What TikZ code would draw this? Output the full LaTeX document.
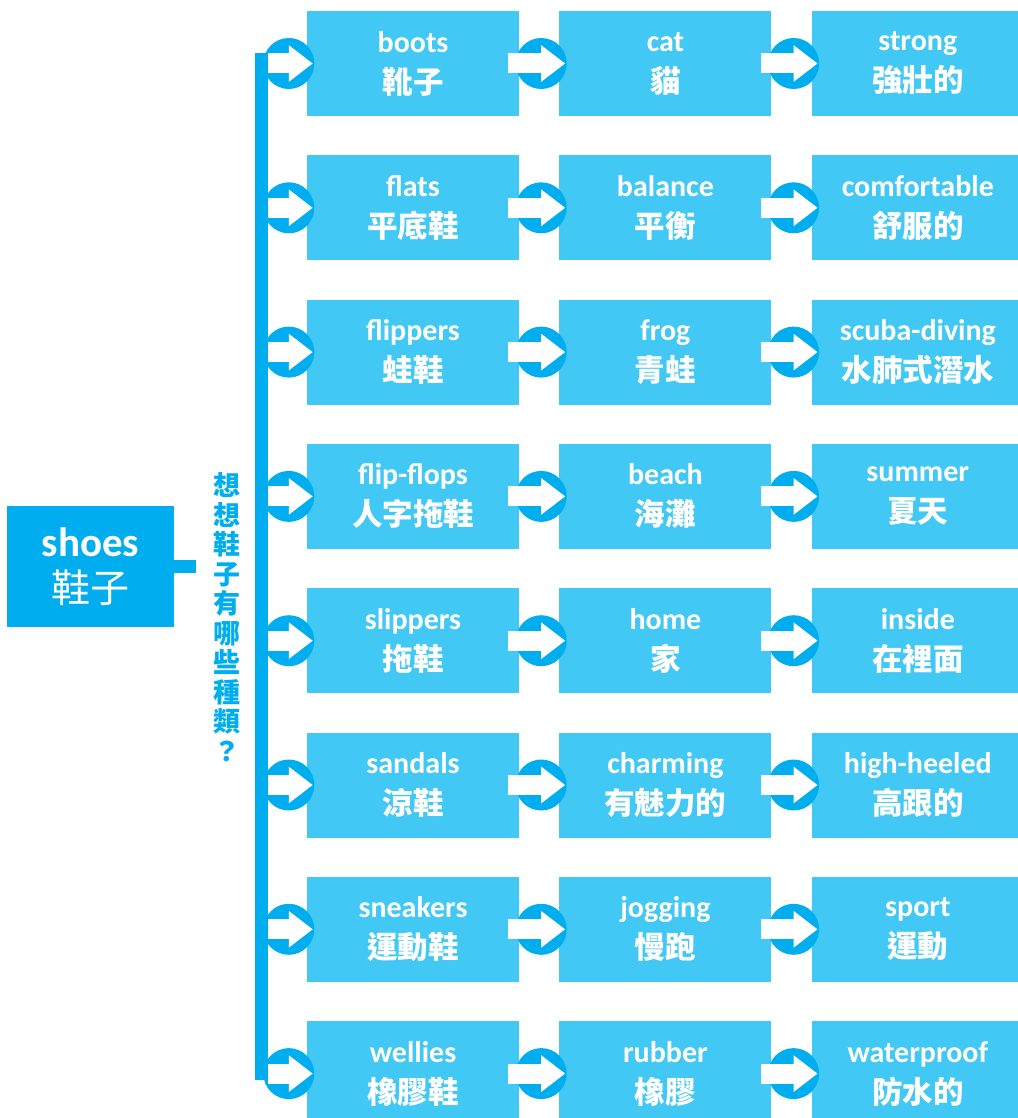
\documentclass[tikz,border=0pt]{standalone}
\usepackage{fontspec}
\newfontfamily\cjk{Noto Sans CJK TC}
\newfontfamily\latin{Carlito}
\usetikzlibrary{arrows.meta,positioning,calc}
\definecolor{boxblue}{HTML}{42C8F4}
\definecolor{darkblue}{HTML}{00AEEF}
\newcommand{\zh}{\cjk\bfseries\fontsize{30.5}{41}\selectfont}

\begin{document}
\begin{tikzpicture}[
    x=1pt, y=-1pt,
    node distance=38.9pt and 40pt,
    box/.style={fill=boxblue, text=white, minimum width=212pt, minimum height=105pt, inner sep=0pt, align=center, font=\latin\bfseries\fontsize{30}{41}\selectfont},
    rootbox/.style={fill=darkblue, text=white, minimum width=167pt, minimum height=121pt, inner sep=0pt, align=center, font=\fontsize{41}{46}\selectfont},
    dot/.style={circle, fill=darkblue, minimum size=51pt, inner sep=0pt},
    rail/.style={line width=13pt, darkblue},
    fat/.style={-{Triangle[length=24pt, width=35pt]}, line width=20pt, white},
]
\useasboundingbox (0,0) rectangle (1017,1118);
% first column
\node[box] (boots) at (413,63.5) {boots\\{\zh 靴子}};
\node[box, below=of boots] (flats) {flats\\{\zh 平底鞋}};
\node[box, below=of flats] (flippers) {flippers\\{\zh 蛙鞋}};
\node[box, below=of flippers] (flipflops) {flip-flops\\{\zh 人字拖鞋}};
\node[box, below=of flipflops] (slippers) {slippers\\{\zh 拖鞋}};
\node[box, below=of slippers] (sandals) {sandals\\{\zh 涼鞋}};
\node[box, below=of sandals] (sneakers) {sneakers\\{\zh 運動鞋}};
\node[box, below=of sneakers] (wellies) {wellies\\{\zh 橡膠鞋}};
% second column
\node[box, right=of boots] (cat) {cat\\{\zh 貓}};
\node[box, right=of flats] (balance) {balance\\{\zh 平衡}};
\node[box, right=of flippers] (frog) {frog\\{\zh 青蛙}};
\node[box, right=of flipflops] (beach) {beach\\{\zh 海灘}};
\node[box, right=of slippers] (home) {home\\{\zh 家}};
\node[box, right=of sandals] (charming) {charming\\{\zh 有魅力的}};
\node[box, right=of sneakers] (jogging) {jogging\\{\zh 慢跑}};
\node[box, right=of wellies] (rubber) {rubber\\{\zh 橡膠}};
% third column
\node[box, right=of cat] (strong) {strong\\{\zh 強壯的}};
\node[box, right=of balance] (comfy) {comfortable\\{\zh 舒服的}};
\node[box, right=of frog] (scuba) {scuba-diving\\{\zh 水肺式潛水}};
\node[box, right=of beach] (summer) {summer\\{\zh 夏天}};
\node[box, right=of home] (inside) {inside\\{\zh 在裡面}};
\node[box, right=of charming] (heeled) {high-heeled\\{\zh 高跟的}};
\node[box, right=of jogging] (sport) {sport\\{\zh 運動}};
\node[box, right=of rubber] (waterproof) {waterproof\\{\zh 防水的}};

% root and rail
\node[rootbox] (shoes) at (90.5,566.5) {{\latin\bfseries shoes}\\{\cjk\fontsize{39}{46}\selectfont 鞋子}};
\coordinate (stubend) at (196,566.5);
\draw[rail] (shoes.east) -- (stubend);
\node[text=darkblue, font=\cjk\bfseries\fontsize{27}{29.5}\selectfont, align=center, inner sep=0pt] (question) at (227,617) {想\\想\\鞋\\子\\有\\哪\\些\\種\\類\\？};
\coordinate (railtop) at (261.5,53);
\coordinate (railbot) at (261.5,1080);
\coordinate (railedge) at (268,0);
\draw[rail] (railtop) -- (railbot);

% dots
\node[dot] (dboots) at ([xshift=-18pt]boots.west) {};
\node[dot] (dflats) at ([xshift=-18pt]flats.west) {};
\node[dot] (dflippers) at ([xshift=-18pt]flippers.west) {};
\node[dot] (dflipflops) at ([xshift=-18pt]flipflops.west) {};
\node[dot] (dslippers) at ([xshift=-18pt]slippers.west) {};
\node[dot] (dsandals) at ([xshift=-18pt]sandals.west) {};
\node[dot] (dsneakers) at ([xshift=-18pt]sneakers.west) {};
\node[dot] (dwellies) at ([xshift=-18pt]wellies.west) {};
\node[dot] (dcat) at ([xshift=-18pt]cat.west) {};
\node[dot] (dbalance) at ([xshift=-18pt]balance.west) {};
\node[dot] (dfrog) at ([xshift=-18pt]frog.west) {};
\node[dot] (dbeach) at ([xshift=-18pt]beach.west) {};
\node[dot] (dhome) at ([xshift=-18pt]home.west) {};
\node[dot] (dcharming) at ([xshift=-18pt]charming.west) {};
\node[dot] (djogging) at ([xshift=-18pt]jogging.west) {};
\node[dot] (drubber) at ([xshift=-18pt]rubber.west) {};
\node[dot] (dstrong) at ([xshift=-18pt]strong.west) {};
\node[dot] (dcomfy) at ([xshift=-18pt]comfy.west) {};
\node[dot] (dscuba) at ([xshift=-18pt]scuba.west) {};
\node[dot] (dsummer) at ([xshift=-18pt]summer.west) {};
\node[dot] (dinside) at ([xshift=-18pt]inside.west) {};
\node[dot] (dheeled) at ([xshift=-18pt]heeled.west) {};
\node[dot] (dsport) at ([xshift=-18pt]sport.west) {};
\node[dot] (dwaterproof) at ([xshift=-18pt]waterproof.west) {};

% rail to first column
\draw[fat] (railedge |- boots) -- ([xshift=6pt]boots.west);
\draw[fat] (railedge |- flats) -- ([xshift=6pt]flats.west);
\draw[fat] (railedge |- flippers) -- ([xshift=6pt]flippers.west);
\draw[fat] (railedge |- flipflops) -- ([xshift=6pt]flipflops.west);
\draw[fat] (railedge |- slippers) -- ([xshift=6pt]slippers.west);
\draw[fat] (railedge |- sandals) -- ([xshift=6pt]sandals.west);
\draw[fat] (railedge |- sneakers) -- ([xshift=6pt]sneakers.west);
\draw[fat] (railedge |- wellies) -- ([xshift=6pt]wellies.west);
% first to second column
\draw[fat] ([xshift=-11pt]boots.east) -- ([xshift=6pt]cat.west);
\draw[fat] ([xshift=-11pt]flats.east) -- ([xshift=6pt]balance.west);
\draw[fat] ([xshift=-11pt]flippers.east) -- ([xshift=6pt]frog.west);
\draw[fat] ([xshift=-11pt]flipflops.east) -- ([xshift=6pt]beach.west);
\draw[fat] ([xshift=-11pt]slippers.east) -- ([xshift=6pt]home.west);
\draw[fat] ([xshift=-11pt]sandals.east) -- ([xshift=6pt]charming.west);
\draw[fat] ([xshift=-11pt]sneakers.east) -- ([xshift=6pt]jogging.west);
\draw[fat] ([xshift=-11pt]wellies.east) -- ([xshift=6pt]rubber.west);
% second to third column
\draw[fat] ([xshift=-11pt]cat.east) -- ([xshift=6pt]strong.west);
\draw[fat] ([xshift=-11pt]balance.east) -- ([xshift=6pt]comfy.west);
\draw[fat] ([xshift=-11pt]frog.east) -- ([xshift=6pt]scuba.west);
\draw[fat] ([xshift=-11pt]beach.east) -- ([xshift=6pt]summer.west);
\draw[fat] ([xshift=-11pt]home.east) -- ([xshift=6pt]inside.west);
\draw[fat] ([xshift=-11pt]charming.east) -- ([xshift=6pt]heeled.west);
\draw[fat] ([xshift=-11pt]jogging.east) -- ([xshift=6pt]sport.west);
\draw[fat] ([xshift=-11pt]rubber.east) -- ([xshift=6pt]waterproof.west);
\end{tikzpicture}
\end{document}
